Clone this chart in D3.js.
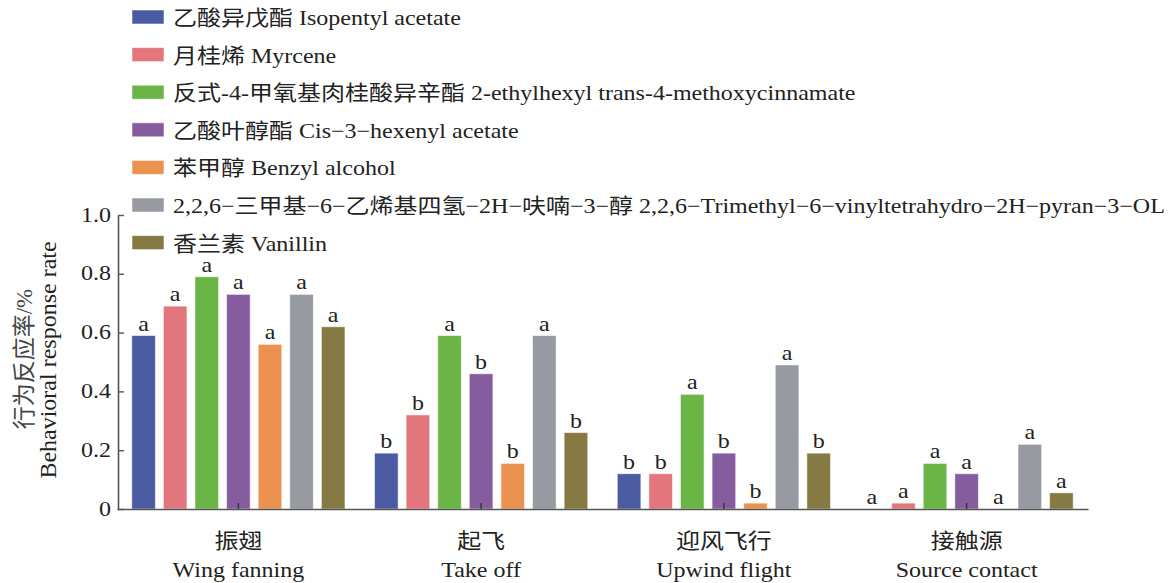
<!DOCTYPE html>
<html>
<head>
<meta charset="utf-8">
<script src="https://cdn.jsdelivr.net/npm/d3@7/dist/d3.min.js"></script>
<style>
  html, body { margin: 0; padding: 0; background: #fff; }
  svg { display: block; }
  text { font-family: "Liberation Serif", "Times New Roman", "Noto Sans CJK SC", serif; fill: #222; }
</style>
</head>
<body>
<svg id="chart" width="1173" height="583"></svg>
<script>
// Behaviours (x groups)
const groupsCn = ["振翅", "起飞", "迎风飞行", "接触源"];
const groupsEn = ["Wing fanning", "Take off", "Upwind flight", "Source contact"];

// Compounds (series)
const seriesNames = [
  "乙酸异戊酯 Isopentyl acetate",
  "月桂烯 Myrcene",
  "反式-4-甲氧基肉桂酸异辛酯 2-ethylhexyl trans-4-methoxycinnamate",
  "乙酸叶醇酯 Cis−3−hexenyl acetate",
  "苯甲醇 Benzyl alcohol",
  "2,2,6−三甲基−6−乙烯基四氢−2H−呋喃−3−醇 2,2,6−Trimethyl−6−vinyltetrahydro−2H−pyran−3−OL",
  "香兰素 Vanillin"
];
const seriesColors = ["#4a5ba1", "#e3767c", "#6bb446", "#855c9e", "#eb9250", "#979aa0", "#857a43"];

// Response rate per compound, one value per behaviour
const isopentylAcetate = [0.59, 0.19, 0.12, 0.00];
const myrcene          = [0.69, 0.32, 0.12, 0.02];
const methoxycinnamate = [0.79, 0.59, 0.39, 0.155];
const hexenylAcetate   = [0.73, 0.46, 0.19, 0.12];
const benzylAlcohol    = [0.56, 0.155, 0.02, 0.00];
const trimethylPyranol = [0.73, 0.59, 0.49, 0.22];
const vanillin         = [0.62, 0.26, 0.19, 0.055];

// Significance letters per compound, one per behaviour
const lettersIsopentyl = ["a", "b", "b", "a"];
const lettersMyrcene   = ["a", "b", "b", "a"];
const lettersMethoxy   = ["a", "a", "a", "a"];
const lettersHexenyl   = ["a", "b", "b", "a"];
const lettersBenzyl    = ["a", "b", "b", "a"];
const lettersPyranol   = ["a", "a", "a", "a"];
const lettersVanillin  = ["a", "b", "b", "a"];

const yTickValues = [0, 0.2, 0.4, 0.6, 0.8, 1.0];
const yTickLabels = ["0", "0.2", "0.4", "0.6", "0.8", "1.0"];

const seriesValues = [isopentylAcetate, myrcene, methoxycinnamate, hexenylAcetate, benzylAlcohol, trimethylPyranol, vanillin];
const seriesLetters = [lettersIsopentyl, lettersMyrcene, lettersMethoxy, lettersHexenyl, lettersBenzyl, lettersPyranol, lettersVanillin];

const svg = d3.select("#chart");
const SX = 1.143;         // horizontal glyph stretch
const FS = 21;            // base font size
const axisColor = "#555";

const x0 = d3.scaleBand().domain(d3.range(groupsCn.length)).range([117, 1088]).padding(0);
const x1 = d3.scaleBand().domain(d3.range(seriesNames.length)).range([-106.6, 106.6]).paddingInner(0.253).paddingOuter(0);
const y = d3.scaleLinear().domain([0, 1]).range([509, 215]);

function stretchedText(sel, x, yy, txt, anchor) {
  return sel.append("text")
    .attr("transform", `translate(${x},${yy}) scale(${SX},1)`)
    .attr("text-anchor", anchor || "start")
    .style("font-size", FS + "px")
    .text(txt);
}

// Bars
const rows = [];
seriesValues.forEach((vals, s) => vals.forEach((v, g) => rows.push({ s, g, v, l: seriesLetters[s][g] })));

const cx = d => x0(d.g) + x0.bandwidth() / 2 + x1(d.s);

svg.append("g").selectAll("rect").data(rows).join("rect")
  .attr("x", cx)
  .attr("y", d => y(d.v))
  .attr("width", x1.bandwidth())
  .attr("height", d => y(0) - y(d.v))
  .attr("fill", d => seriesColors[d.s])
  .attr("stroke", "rgba(255,255,255,0.55)")
  .attr("stroke-width", 1);

// Significance letters
const letterG = svg.append("g");
rows.forEach(d => {
  stretchedText(letterG, cx(d) + x1.bandwidth() / 2, y(d.v) - 5, d.l, "middle");
});

// Y axis
const yAxis = d3.axisLeft(y).tickValues(yTickValues).tickFormat((d, i) => yTickLabels[i])
  .tickSizeInner(-6).tickSizeOuter(0);
const yg = svg.append("g").attr("transform", "translate(118,0)").call(yAxis);
yg.select(".domain").attr("stroke", axisColor).attr("stroke-width", 1.6);
yg.selectAll(".tick line").attr("stroke", axisColor).attr("stroke-width", 1.4);
yg.selectAll(".tick text").remove();
yTickValues.forEach((v, i) => stretchedText(svg, 111, y(v) + 6.5, yTickLabels[i], "end"));

// X axis
const xAxis = d3.axisBottom(x0).tickSizeInner(-6).tickSizeOuter(0).tickFormat("");
const xg = svg.append("g").attr("transform", `translate(0,${y(0)})`).call(xAxis);
xg.select(".domain").attr("stroke", axisColor).attr("stroke-width", 1.6);
xg.selectAll(".tick line").attr("stroke", "#333").attr("stroke-width", 1.4);

// Group labels
groupsCn.forEach((g, i) => {
  const c = x0(i) + x0.bandwidth() / 2;
  stretchedText(svg, c, 548, g, "middle");
  stretchedText(svg, c, 577, groupsEn[i], "middle");
});

// Y axis title
svg.append("text")
  .attr("transform", "translate(32,359) rotate(-90)")
  .attr("text-anchor", "middle")
  .style("font-size", "23px")
  .style("fill", "#444")
  .text("行为反应率/%");
svg.append("text")
  .attr("transform", "translate(56,360) rotate(-90)")
  .attr("text-anchor", "middle")
  .style("font-size", "24px")
  .text("Behavioral response rate");

// Legend
const legend = svg.append("g");
seriesNames.forEach((name, i) => {
  const cy = 17 + 37.6 * i;
  legend.append("rect")
    .attr("x", 132).attr("y", cy - 7)
    .attr("width", 32).attr("height", 14)
    .attr("fill", seriesColors[i])
    .attr("stroke", "rgba(255,255,255,0.55)");
  stretchedText(legend, 173, cy + 8, name, "start");
});
</script>
</body>
</html>
